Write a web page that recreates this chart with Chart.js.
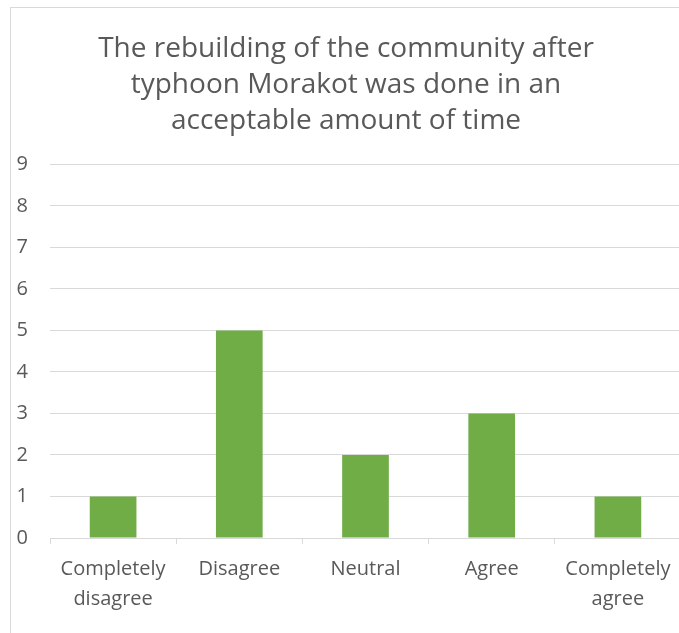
<!DOCTYPE html>
<html lang="en">
<head>
    <meta charset="UTF-8">
    <title>Typhoon Morakot rebuilding survey</title>
    <script src="https://cdn.jsdelivr.net/npm/chart.js"></script>
    <style>
        html, body { margin: 0; padding: 0; background: #fff; overflow: hidden; width: 679px; height: 633px; }
        .frame {
            position: absolute; left: 10px; top: 7px;
            width: 690px; height: 640px;
            border-left: 1px solid #d9d9d9; border-top: 1px solid #d9d9d9;
        }
        .box { position: absolute; left: 0; top: 0; width: 680px; height: 626px; }
    </style>
</head>
<body>
    <div class="frame">
        <div class="box"><canvas id="surveyChart"></canvas></div>
    </div>

    <script>
        const titleLines = ['The rebuilding of the community after', 'typhoon Morakot was done in an', 'acceptable amount of time'];
        const categories = [['Completely', 'disagree'], 'Disagree', 'Neutral', 'Agree', ['Completely', 'agree']];
        const responses = [1, 5, 2, 3, 1];
        const yTicks = [0, 1, 2, 3, 4, 5, 6, 7, 8, 9];

        const textColor = '#595959';
        const gridColor = '#d9d9d9';

        new Chart(document.getElementById('surveyChart'), {
            type: 'bar',
            data: {
                labels: categories,
                datasets: [{
                    data: responses,
                    backgroundColor: '#70ad47',
                    categoryPercentage: 1,
                    barPercentage: 0.37
                }]
            },
            options: {
                responsive: true, maintainAspectRatio: false, animation: false,
                layout: { padding: { top: 0, right: 10, bottom: 10, left: 0 } },
                plugins: {
                    legend: { display: false },
                    tooltip: { enabled: false },
                    title: {
                        display: true,
                        text: titleLines,
                        color: textColor,
                        font: { family: 'Open Sans', size: 28, weight: 'normal', lineHeight: 1.29 },
                        padding: { top: 23, bottom: 25 }
                    }
                },
                scales: {
                    x: {
                        offset: true,
                        grid: { offset: true, drawOnChartArea: false, drawTicks: true, tickLength: 6, color: gridColor },
                        border: { color: gridColor },
                        ticks: {
                            color: textColor, padding: 10, maxRotation: 0, autoSkip: false,
                            font: { family: 'Open Sans', size: 20, lineHeight: 1.5 }
                        }
                    },
                    y: {
                        min: 0, max: 9,
                        afterBuildTicks: (axis) => { axis.ticks = yTicks.map(v => ({ value: v })); },
                        afterFit: (axis) => { axis.width = 39; },
                        grid: { color: gridColor, drawTicks: false },
                        border: { display: false },
                        ticks: {
                            color: textColor, padding: 22,
                            font: { family: 'Open Sans', size: 20 }
                        }
                    }
                }
            }
        });
    </script>
</body>
</html>
